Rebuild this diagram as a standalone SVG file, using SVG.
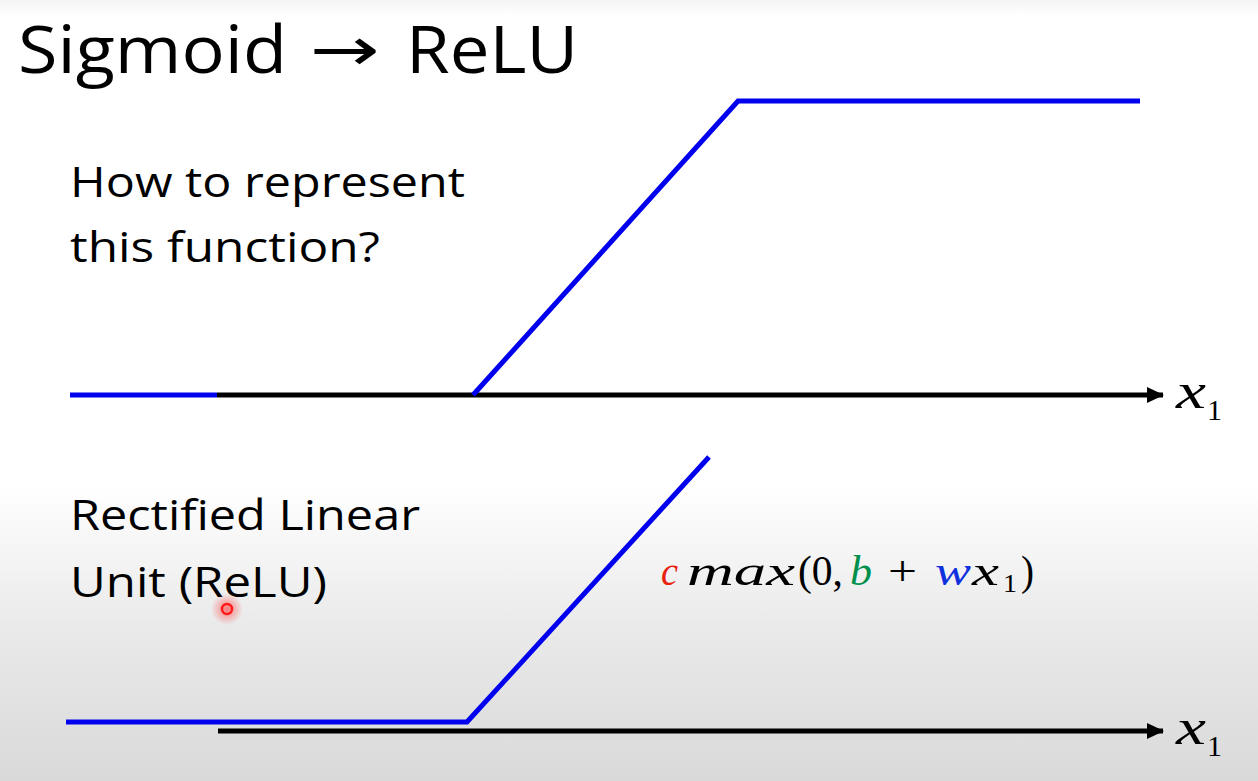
<svg xmlns="http://www.w3.org/2000/svg" width="1258" height="781" viewBox="0 0 1258 781">
<defs>
<linearGradient id="bg" x1="0" y1="0" x2="0" y2="1">
<stop offset="0" stop-color="#f4f4f4"/>
<stop offset="0.02" stop-color="#ffffff"/>
<stop offset="0.62" stop-color="#ffffff"/>
<stop offset="0.8" stop-color="#eaeaea"/>
<stop offset="1" stop-color="#d9d9d9"/>
</linearGradient>
<radialGradient id="glow">
<stop offset="0" stop-color="#ff3030" stop-opacity="0.6"/>
<stop offset="1" stop-color="#ff3030" stop-opacity="0"/>
</radialGradient>
<marker id="arr" markerWidth="17" markerHeight="16" refX="16" refY="8" orient="auto" markerUnits="userSpaceOnUse">
<path d="M0,0 L17,8 L0,16 Z" fill="#000"/>
</marker>
<style>
.t{font-family:"Open Sans","Liberation Sans",sans-serif;fill:#000}
.m{font-family:"Liberation Serif","DejaVu Serif",serif;font-style:italic}
.n{font-family:"Liberation Serif","DejaVu Serif",serif;font-style:normal}
.k{fill:#000}
.red{fill:#e8200c}
.grn{fill:#00904c}
.blu{fill:#1030e0}
.ax{stroke:#000;stroke-width:5;fill:none}
.bl{stroke:#0000ee;stroke-width:5;fill:none;stroke-linejoin:miter}
</style>
</defs>
<rect width="1258" height="781" fill="url(#bg)"/>
<g id="title">
<text class="t" x="18" y="73" font-size="66" textLength="269" lengthAdjust="spacingAndGlyphs">Sigmoid</text>
<text x="310" y="70" font-size="60" textLength="70" lengthAdjust="spacingAndGlyphs" style="font-family:'DejaVu Sans',sans-serif;fill:#000">→</text>
<text class="t" x="406" y="73" font-size="66" textLength="172" lengthAdjust="spacingAndGlyphs">ReLU</text>
</g>
<g id="question"><text class="t" x="70" y="197" font-size="42" textLength="395" lengthAdjust="spacingAndGlyphs">How to represent</text>
<text class="t" x="70" y="262" font-size="42" textLength="310" lengthAdjust="spacingAndGlyphs">this function?</text></g>
<g id="relu-label"><text class="t" x="70" y="530" font-size="42" textLength="350" lengthAdjust="spacingAndGlyphs">Rectified Linear</text>
<text class="t" x="70" y="597" font-size="42" textLength="257" lengthAdjust="spacingAndGlyphs">Unit (ReLU)</text></g>
<g id="connectors">
<line class="ax" x1="217" y1="395" x2="1163" y2="395" marker-end="url(#arr)"/>
<line class="ax" x1="218" y1="731" x2="1163" y2="731" marker-end="url(#arr)"/>
</g>
<g id="hard-sigmoid"><polyline class="bl" points="70,395 217,395"/><polyline class="bl" points="473,395 738,101 1140,101"/></g>
<g id="relu-curve"><polyline class="bl" points="66,722 467,722 709,457"/></g>
<g id="x1-top"><text class="m k" x="1176" y="408" font-size="50" textLength="30" lengthAdjust="spacingAndGlyphs">x</text><text class="n k" x="1207" y="420" font-size="30" textLength="15" lengthAdjust="spacingAndGlyphs">1</text></g>
<g id="x1-bottom"><text class="m k" x="1176" y="744" font-size="50" textLength="30" lengthAdjust="spacingAndGlyphs">x</text><text class="n k" x="1207" y="756" font-size="30" textLength="15" lengthAdjust="spacingAndGlyphs">1</text></g>
<g id="formula">
<text class="m red" x="661" y="585" font-size="42" textLength="17" lengthAdjust="spacingAndGlyphs">c</text>
<text class="m k" x="687" y="585" font-size="42" textLength="108" lengthAdjust="spacingAndGlyphs">max</text>
<text class="n k" x="798" y="585" font-size="42" textLength="45" lengthAdjust="spacingAndGlyphs">(0,</text>
<text class="m grn" x="850" y="585" font-size="42" textLength="22" lengthAdjust="spacingAndGlyphs">b</text>
<text class="n k" x="888" y="585" font-size="42" textLength="29" lengthAdjust="spacingAndGlyphs">+</text>
<text class="m blu" x="935" y="585" font-size="42" textLength="36" lengthAdjust="spacingAndGlyphs">w</text>
<text class="m k" x="972" y="585" font-size="42" textLength="27" lengthAdjust="spacingAndGlyphs">x</text>
<text class="n k" x="1003" y="592" font-size="26" textLength="14" lengthAdjust="spacingAndGlyphs">1</text>
<text class="n k" x="1021" y="585" font-size="42" textLength="13" lengthAdjust="spacingAndGlyphs">)</text>
</g>
<g id="cursor"><circle cx="227" cy="609" r="16" fill="url(#glow)"/><circle cx="227" cy="609" r="5" fill="none" stroke="#ff1a1a" stroke-width="2.5"/></g>
</svg>
